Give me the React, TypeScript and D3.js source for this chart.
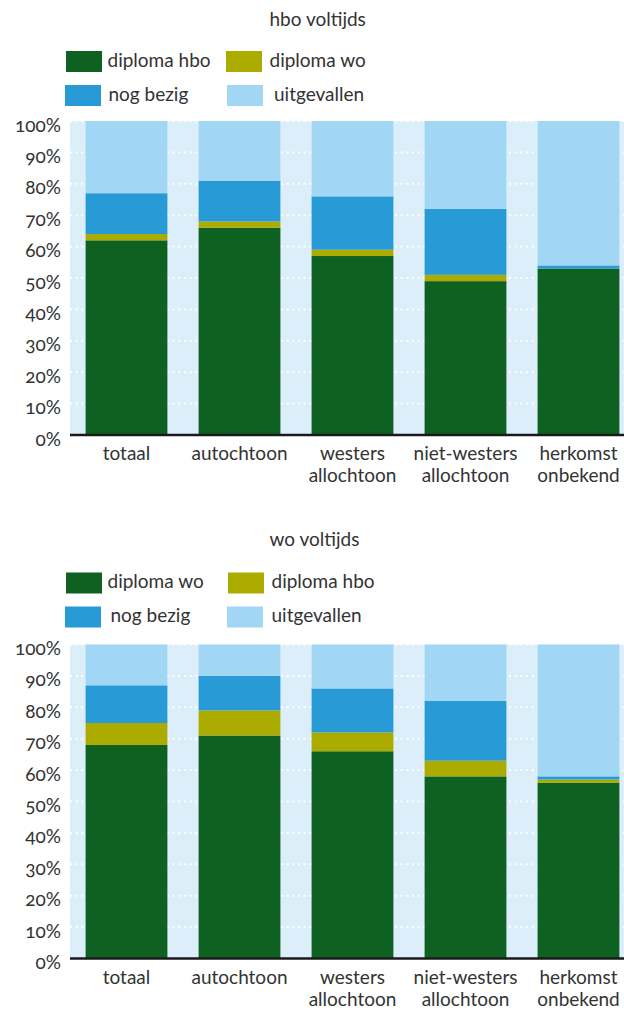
import React from "react";
import * as d3 from "d3";

const categories = ["totaal", "autochtoon", "westers allochtoon", "niet-westers allochtoon", "herkomst onbekend"];
const categoryLines = [["totaal"], ["autochtoon"], ["westers", "allochtoon"], ["niet-westers", "allochtoon"], ["herkomst", "onbekend"]];

// hbo voltijds
const hboDiplomaHbo = [62, 66, 57, 49, 53];
const hboDiplomaWo = [2, 2, 2, 2, 0];
const hboNogBezig = [13, 13, 17, 21, 1];
const hboUitgevallen = [23, 19, 24, 28, 46];

// wo voltijds
const woDiplomaWo = [68, 71, 66, 58, 56];
const woDiplomaHbo = [7, 8, 6, 5, 1];
const woNogBezig = [12, 11, 14, 19, 1];
const woUitgevallen = [13, 10, 14, 18, 42];

const yTicks = [0, 10, 20, 30, 40, 50, 60, 70, 80, 90, 100];

const COLORS = ["#0e6121", "#abab00", "#289bd7", "#a1d7f4"];
const BG = "#ddeefb";
const TEXT = "#333333";
const FONT = "Lato, 'Open Sans', sans-serif";
const FS = 19;

type Panel = {
  title: string;
  names: string[];
  series: number[][];
  titleY: number;
  legendY: number;
  plotY: number;
  legendTextX: number[];
  legendSwatchX: number[];
};

function ChartPanel({ title, names, series, titleY, legendY, plotY, legendTextX, legendSwatchX }: Panel) {
  const plotTop = plotY;
  const plotBottom = plotY + 314;
  const x = d3
    .scaleBand<string>()
    .domain(categories)
    .range([70, 635])
    .paddingInner(0.276)
    .paddingOuter(0.138);
  const y = d3.scaleLinear().domain([0, 100]).range([plotBottom, plotTop]);

  const keys = ["s0", "s1", "s2", "s3"];
  const rows = categories.map((c, i) => {
    const r: any = { cat: c };
    keys.forEach((k, j) => (r[k] = series[j][i]));
    return r;
  });
  const stacked = d3.stack<any>().keys(keys)(rows);

  const rowY = [legendY, legendY, legendY + 34, legendY + 34];

  return (
    <g>
      <text x={269.5} y={titleY} fontSize={FS} fill={TEXT} fontFamily={FONT}>
        {title}
      </text>
      {names.map((n, i) => (
        <g key={n}>
          <rect x={legendSwatchX[i]} y={rowY[i]} width={36} height={21} fill={COLORS[i]} />
          <text x={legendTextX[i]} y={rowY[i] + 15.5} fontSize={FS} fill={TEXT} fontFamily={FONT}>
            {n}
          </text>
        </g>
      ))}
      <rect x={70} y={plotTop} width={564} height={plotBottom - plotTop} fill={BG} />
      {yTicks
        .filter((t) => t > 0)
        .map((t) => (
          <line
            key={t}
            x1={70}
            x2={634}
            y1={y(t)}
            y2={y(t)}
            stroke="#ffffff"
            strokeWidth={2}
            strokeDasharray="2 3.7"
          />
        ))}
      {stacked.map((s, si) => (
        <g key={si} fill={COLORS[si]}>
          {s.map((d, i) => (
            <rect
              key={i}
              x={x(categories[i])}
              width={x.bandwidth()}
              y={y(d[1])}
              height={Math.max(0, y(d[0]) - y(d[1]))}
            />
          ))}
        </g>
      ))}
      <line x1={70} x2={624} y1={plotBottom} y2={plotBottom} stroke="#1a1a1a" strokeWidth={2.6} />
      {yTicks.map((t) => (
        <text
          key={t}
          x={61}
          y={y(t) + 10.5}
          textAnchor="end"
          fontSize={FS}
          fill={TEXT}
          fontFamily={FONT}
          style={{ fontVariantNumeric: "oldstyle-nums" }}
        >
          {t}%
        </text>
      ))}
      {categoryLines.map((lines, i) => (
        <text
          key={i}
          x={(x(categories[i]) as number) + x.bandwidth() / 2}
          y={plotBottom + 25}
          textAnchor="middle"
          fontSize={FS}
          fill={TEXT}
          fontFamily={FONT}
        >
          {lines.map((l, j) => (
            <tspan key={j} x={(x(categories[i]) as number) + x.bandwidth() / 2} dy={j === 0 ? 0 : 22}>
              {l}
            </tspan>
          ))}
        </text>
      ))}
    </g>
  );
}

export default function App() {
  return (
    <div style={{ position: "absolute", left: 0, top: 0 }}>
      <svg width={624} height={1011} style={{ display: "block" }}>
        <rect width={624} height={1011} fill="#ffffff" />
        <ChartPanel
          title="hbo voltijds"
          names={["diploma hbo", "diploma wo", "nog bezig", "uitgevallen"]}
          series={[hboDiplomaHbo, hboDiplomaWo, hboNogBezig, hboUitgevallen]}
          titleY={26}
          legendY={51}
          plotY={121}
          legendSwatchX={[66, 226, 65, 227]}
          legendTextX={[107.5, 269.5, 108.5, 274]}
        />
        <ChartPanel
          title="wo voltijds"
          names={["diploma wo", "diploma hbo", "nog bezig", "uitgevallen"]}
          series={[woDiplomaWo, woDiplomaHbo, woNogBezig, woUitgevallen]}
          titleY={546}
          legendY={572.5}
          plotY={644.5}
          legendSwatchX={[66, 228, 65, 227]}
          legendTextX={[107.5, 271.5, 110.5, 271.5]}
        />
      </svg>
    </div>
  );
}
